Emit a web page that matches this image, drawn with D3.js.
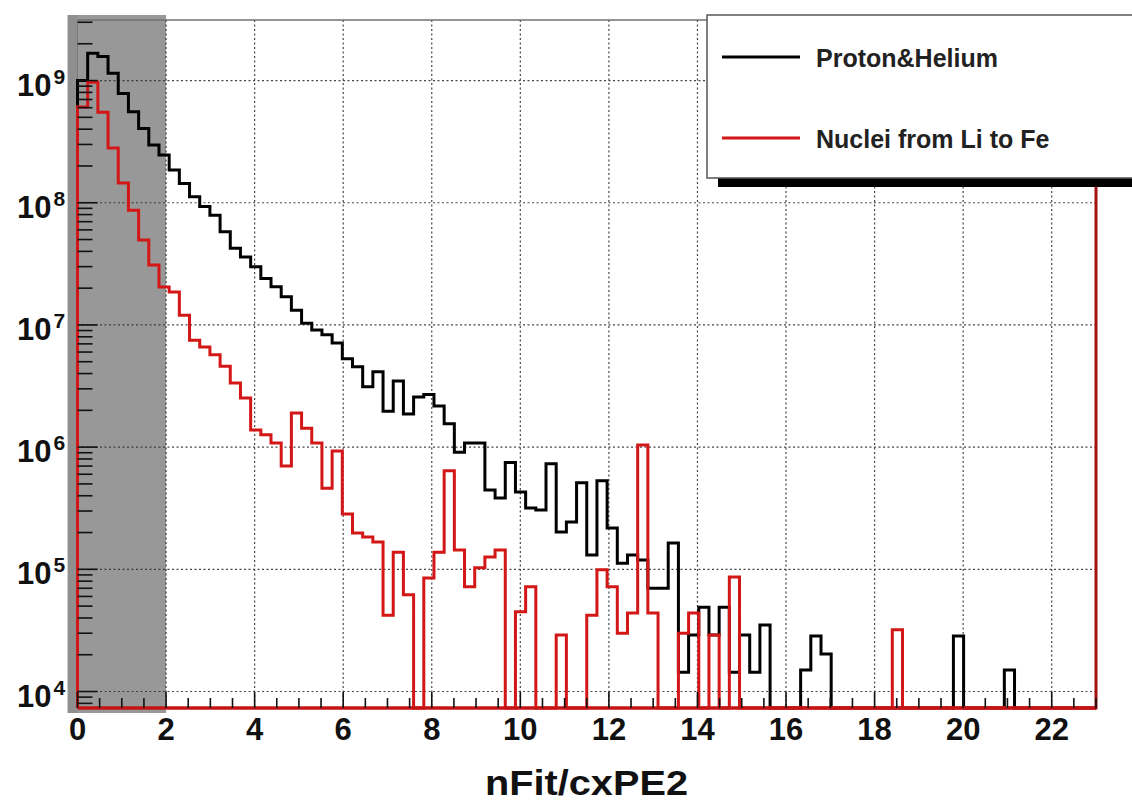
<!DOCTYPE html>
<html><head><meta charset="utf-8">
<script src="https://cdn.jsdelivr.net/npm/d3@7"></script>
<style>html,body{margin:0;padding:0;background:#fff;} svg{display:block;}</style>
</head><body>
<svg id="chart" width="1132" height="804"></svg>
<script>
// ---------------- data ----------------
const binCount = 100;
const xDomain = [0, 23];
const protonHelium = [
  1.0e9, 1.67e9, 1.57e9, 1.15e9, 7.85e8, 5.56e8, 4.06e8, 2.97e8, 2.46e8, 1.85e8,
  1.44e8, 1.12e8, 9.3e7, 7.9e7, 5.8e7, 4.24e7, 3.6e7, 2.99e7, 2.4e7, 2.05e7,
  1.7e7, 1.32e7, 1.03e7, 9.1e6, 8.3e6, 7.1e6, 5.3e6, 4.55e6, 3.12e6, 4.14e6,
  1.97e6, 3.47e6, 1.87e6, 2.57e6, 2.69e6, 2.17e6, 1.55e6, 9.1e5, 1.08e6, 1.08e6,
  4.46e5, 3.83e5, 7.5e5, 4.3e5, 3.18e5, 3.06e5, 7.3e5, 2.02e5, 2.44e5, 5.1e5,
  1.31e5, 5.3e5, 2.18e5, 1.12e5, 1.31e5, 1.19e5, 7.0e4, 7.0e4, 1.64e5, 1.44e4,
  2.9e4, 4.9e4, 2.9e4, 4.9e4, 1.44e4, 2.9e4, 1.44e4, 3.5e4, 0, 0,
  0, 1.5e4, 2.85e4, 2.03e4, 0, 0, 0, 0, 0, 0,
  0, 0, 0, 0, 0, 0, 2.85e4, 0, 0, 0,
  0, 1.5e4, 0, 0, 0, 0, 0, 0, 0, 0
];
const nucleiLiFe = [
  6.07e8, 9.7e8, 5.5e8, 2.8e8, 1.45e8, 8.7e7, 4.95e7, 3.09e7, 2.04e7, 1.86e7,
  1.2e7, 7.5e6, 6.6e6, 5.7e6, 4.6e6, 3.35e6, 2.52e6, 1.38e6, 1.26e6, 1.08e6,
  7.0e5, 1.9e6, 1.43e6, 1.08e6, 4.6e5, 9.3e5, 2.84e5, 1.98e5, 1.84e5, 1.67e5,
  4.2e4, 1.38e5, 6.2e4, 0, 8.5e4, 1.38e5, 6.4e5, 1.44e5, 7.2e4, 1.03e5,
  1.26e5, 1.44e5, 0, 4.5e4, 7.2e4, 0, 0, 2.9e4, 0, 0,
  4.2e4, 9.9e4, 7.2e4, 3.0e4, 4.4e4, 1.04e6, 4.4e4, 0, 0, 3.0e4,
  4.4e4, 0, 2.9e4, 0, 8.65e4, 0, 0, 0, 0, 0,
  0, 0, 0, 0, 0, 0, 0, 0, 0, 0,
  3.2e4, 0, 0, 0, 0, 0, 0, 0, 0, 0,
  0, 0, 0, 0, 0, 0, 0, 0, 0, 0
];
const seriesNames = ["Proton&Helium", "Nuclei from Li to Fe"];
const xTickValues = [0, 2, 4, 6, 8, 10, 12, 14, 16, 18, 20, 22];
const xTickLabels = ["0", "2", "4", "6", "8", "10", "12", "14", "16", "18", "20", "22"];
const yTickExponents = [4, 5, 6, 7, 8, 9];
const yDomain = [7330, 3.13e9];
const cutRegion = [-0.22, 2];
const axisTitle = "nFit/cxPE2";

// ---------------- layout ----------------
const svg = d3.select("#chart");
const plot = {left: 77.5, right: 1096, top: 20, bottom: 708};
const x = d3.scaleLinear().domain(xDomain).range([plot.left, plot.right]);
const y = d3.scaleLog().domain(yDomain).range([plot.bottom, plot.top]);
const FONT = "'Liberation Sans', Arial, Helvetica, sans-serif";
const RED = "#d31616";
const binW = (xDomain[1] - xDomain[0]) / binCount;
const edge = i => xDomain[0] + i * binW;

svg.append("rect").attr("width", 1132).attr("height", 804).attr("fill", "#fff");

// shaded cut region
svg.append("rect")
  .attr("x", x(cutRegion[0])).attr("y", plot.top - 5)
  .attr("width", x(cutRegion[1]) - x(cutRegion[0]))
  .attr("height", plot.bottom - plot.top + 10)
  .attr("fill", "#989898");
svg.append("rect")
  .attr("x", x(cutRegion[0])).attr("y", plot.top - 5)
  .attr("width", plot.left - x(cutRegion[0]))
  .attr("height", plot.bottom - plot.top + 10)
  .attr("fill", "#8f8f8f");

// grid
const grid = svg.append("g").attr("stroke", "#333").attr("stroke-width", 1.2)
  .attr("stroke-dasharray", "2,2.5").attr("opacity", 0.9);
xTickValues.filter(v => v > 0).forEach(v => {
  grid.append("line").attr("x1", x(v)).attr("x2", x(v)).attr("y1", plot.top).attr("y2", plot.bottom);
});
yTickExponents.forEach(e => {
  grid.append("line").attr("x1", plot.left).attr("x2", plot.right).attr("y1", y(Math.pow(10, e))).attr("y2", y(Math.pow(10, e)));
});

// frame
svg.append("line").attr("x1", plot.left).attr("x2", plot.right).attr("y1", plot.top).attr("y2", plot.top)
  .attr("stroke", "#707070").attr("stroke-width", 1.5);
svg.append("line").attr("x1", plot.left).attr("x2", plot.left).attr("y1", plot.top).attr("y2", plot.bottom)
  .attr("stroke", "#7a7a7a").attr("stroke-width", 1);

// histograms
function stepPoints(vals) {
  const pts = [[x(edge(0)), plot.bottom]];
  vals.forEach((v, i) => {
    const yy = v > 0 ? y(Math.max(v, yDomain[0])) : plot.bottom;
    pts.push([x(edge(i)), yy]);
    pts.push([x(edge(i + 1)), yy]);
  });
  pts.push([x(edge(vals.length)), plot.bottom]);
  return pts;
}
const line = d3.line();
svg.append("path").attr("d", line(stepPoints(protonHelium)))
  .attr("fill", "none").attr("stroke", "#000").attr("stroke-width", 3).attr("stroke-linejoin", "miter");
svg.append("path").attr("d", line(stepPoints(nucleiLiFe)))
  .attr("fill", "none").attr("stroke", RED).attr("stroke-width", 3).attr("stroke-linejoin", "miter");

// bottom axis line & right frame (red)
svg.append("line").attr("x1", plot.left).attr("x2", plot.right).attr("y1", plot.bottom).attr("y2", plot.bottom)
  .attr("stroke", "#c41414").attr("stroke-width", 3.5);
svg.append("line").attr("x1", plot.right).attr("x2", plot.right).attr("y1", plot.top).attr("y2", plot.bottom + 1.5)
  .attr("stroke", "#a51010").attr("stroke-width", 3);

// x ticks
const ticks = svg.append("g").attr("stroke", "#111").attr("stroke-width", 1.6);
for (let v = xDomain[0]; v <= xDomain[1] + 1e-9; v += 0.5) {
  const major = Math.abs(v / 2 - Math.round(v / 2)) < 1e-9;
  ticks.append("line").attr("x1", x(v)).attr("x2", x(v))
    .attr("y1", plot.bottom).attr("y2", plot.bottom - (major ? 16 : 10));
}
// y ticks
for (let e = 3; e <= 9; e++) {
  for (let m = 1; m <= 9; m++) {
    const v = m * Math.pow(10, e);
    if (v < yDomain[0] || v > yDomain[1]) continue;
    ticks.append("line").attr("x1", plot.left).attr("x2", plot.left + (m === 1 ? 20 : 15))
      .attr("y1", y(v)).attr("y2", y(v));
  }
}

// x tick labels
svg.append("g").selectAll("text").data(xTickValues).join("text")
  .attr("x", d => x(d)).attr("y", 740)
  .attr("text-anchor", "middle")
  .attr("font-family", FONT).attr("font-weight", "bold").attr("font-size", 31).attr("fill", "#111")
  .text((d, i) => xTickLabels[i]);

// y tick labels
const yl = svg.append("g").selectAll("text").data(yTickExponents).join("text")
  .attr("x", 17).attr("y", d => y(Math.pow(10, d)) + 15)
  .attr("font-family", FONT).attr("font-weight", "bold").attr("font-size", 31).attr("fill", "#111");
yl.append("tspan").text("10");
yl.append("tspan").attr("dx", 2).attr("dy", -12).attr("font-size", 21).text(d => String(d));

// axis title
svg.append("text").attr("x", 586.5).attr("y", 795)
  .attr("text-anchor", "middle")
  .attr("font-family", FONT).attr("font-weight", "bold").attr("font-size", 35).attr("fill", "#111")
  .attr("textLength", 203).attr("lengthAdjust", "spacingAndGlyphs")
  .text(axisTitle);

// legend
const lg = svg.append("g");
lg.append("rect").attr("x", 718).attr("y", 178).attr("width", 450).attr("height", 9).attr("fill", "#000");
lg.append("rect").attr("x", 707).attr("y", 15).attr("width", 450).attr("height", 163)
  .attr("fill", "#fff").attr("stroke", "#555").attr("stroke-width", 1.5);
const legendColors = ["#000", RED];
const legendY = [57, 138];
seriesNames.forEach((name, i) => {
  lg.append("line").attr("x1", 722).attr("x2", 800).attr("y1", legendY[i]).attr("y2", legendY[i])
    .attr("stroke", legendColors[i]).attr("stroke-width", 3);
  lg.append("text").attr("x", 816).attr("y", legendY[i] + 9.5)
    .attr("font-family", FONT).attr("font-weight", "bold").attr("font-size", 25).attr("fill", "#222")
    .text(name);
});
</script>
</body></html>
